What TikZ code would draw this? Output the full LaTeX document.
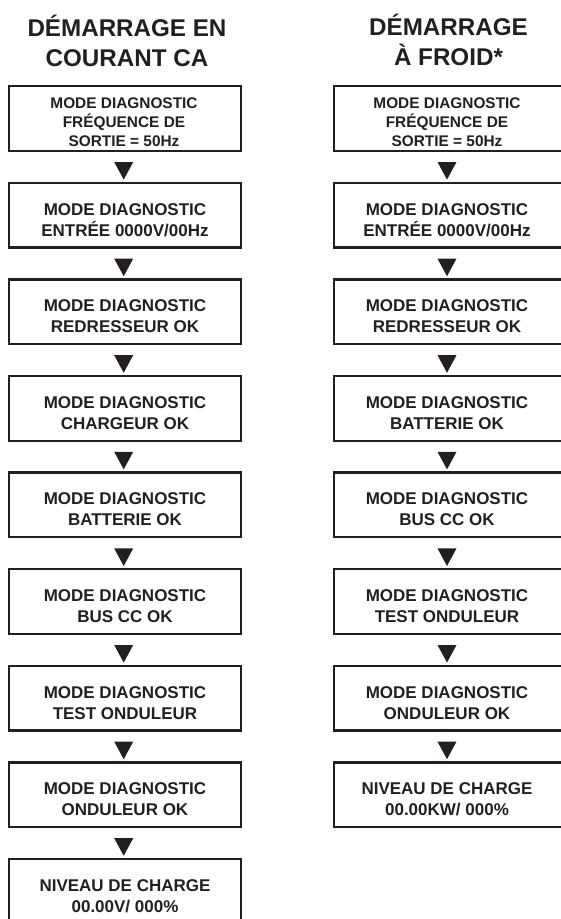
\documentclass[tikz,border=0pt]{standalone}
\usepackage{fontspec}
\setmainfont{Liberation Sans}
\usetikzlibrary{calc}
\definecolor{ink}{HTML}{231F20}
\begin{document}
\begin{tikzpicture}[x=1pt,y=-1pt,
  box/.style={draw=ink, line width=2.3pt, minimum width=231.7pt, minimum height=64.7pt, inner sep=0pt},
  txt/.style={text=ink, font=\fontsize{17}{21}\selectfont\bfseries, align=center, inner sep=0pt, anchor=base},
  txts/.style={text=ink, font=\fontsize{15.4}{19.2}\selectfont\bfseries, align=center, inner sep=0pt, anchor=base},
  ttl/.style={text=ink, font=\fontsize{24.2}{30}\selectfont\bfseries, align=center, inner sep=0pt, anchor=base},
  tri/.style={fill=ink, draw=none}]
\useasboundingbox (0,0) rectangle (561,919);
\clip (0,0) rectangle (561,919);

% titles (base anchor = last line's baseline)
\node[ttl] (T1) at (127,66.7) {DÉMARRAGE EN\\COURANT CA};
\node[ttl] (T2) at (448.5,65.5) {DÉMARRAGE\\À FROID*};

% left column
\node[box] (L0) at (125,118.5) {};
\node[txts] (LT0) at ($(L0.north)+(-1,61.7)$) {MODE DIAGNOSTIC\\FRÉQUENCE DE\\SORTIE = 50Hz};
\foreach[count=\k] \t in {{MODE DIAGNOSTIC\\ENTRÉE 0000V/00Hz},
  {MODE DIAGNOSTIC\\REDRESSEUR OK},
  {MODE DIAGNOSTIC\\CHARGEUR OK},
  {MODE DIAGNOSTIC\\BATTERIE OK},
  {MODE DIAGNOSTIC\\BUS CC OK},
  {MODE DIAGNOSTIC\\TEST ONDULEUR},
  {MODE DIAGNOSTIC\\ONDULEUR OK},
  {NIVEAU DE CHARGE\\00.00V/ 000\%}}{
  \pgfmathsetmacro\yc{118.5+96.6*\k}
  \node[box] (L\k) at (125,\yc) {};
  \node[txt] (LT\k) at ($(L\k.north)+(0,54.5)$) {\t};
}
\foreach \k in {0,...,7}{
  \pgfmathtruncatemacro\n{\k+1}
  \fill[tri] ($(L\k.south)+(-10.8,10)$) -- ($(L\k.south)+(8.2,10)$) -- ($(L\n.north)+(-1.3,-2)$) -- cycle;
}

% right column
\node[box] (R0) at (450,118.5) {};
\node[txts] (RT0) at ($(R0.north)+(-3,61.7)$) {MODE DIAGNOSTIC\\FRÉQUENCE DE\\SORTIE = 50Hz};
\foreach[count=\k] \t in {{MODE DIAGNOSTIC\\ENTRÉE 0000V/00Hz},
  {MODE DIAGNOSTIC\\REDRESSEUR OK},
  {MODE DIAGNOSTIC\\BATTERIE OK},
  {MODE DIAGNOSTIC\\BUS CC OK},
  {MODE DIAGNOSTIC\\TEST ONDULEUR},
  {MODE DIAGNOSTIC\\ONDULEUR OK},
  {NIVEAU DE CHARGE\\00.00KW/ 000\%}}{
  \pgfmathsetmacro\yc{118.5+96.6*\k}
  \node[box] (R\k) at (450,\yc) {};
  \node[txt] (RT\k) at ($(R\k.north)+(-3,54.5)$) {\t};
}
\foreach \k in {0,...,6}{
  \pgfmathtruncatemacro\n{\k+1}
  \fill[tri] ($(R\k.south)+(-12.5,10)$) -- ($(R\k.south)+(6.5,10)$) -- ($(R\n.north)+(-3,-2)$) -- cycle;
}
\end{tikzpicture}
\end{document}
